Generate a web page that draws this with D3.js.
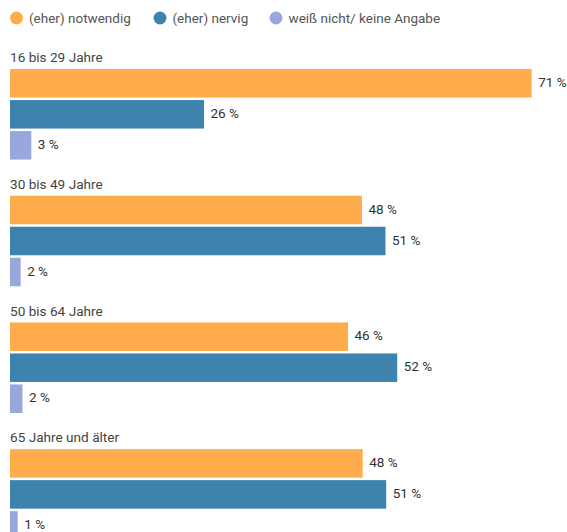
<!DOCTYPE html>
<html>
<head>
<meta charset="utf-8">
<script src="https://cdn.jsdelivr.net/npm/d3@7"></script>
<style>
  html, body { margin: 0; padding: 0; background: #fff; }
  svg { display: block; font-family: Roboto, "Noto Sans", sans-serif; }
</style>
</head>
<body>
<svg id="chart" width="567" height="532"></svg>
<script>
const groups = ["16 bis 29 Jahre", "30 bis 49 Jahre", "50 bis 64 Jahre", "65 Jahre und älter"];
const seriesNames = ["(eher) notwendig", "(eher) nervig", "weiß nicht/ keine Angabe"];
const seriesColors = ["#ffad4c", "#3d83ad", "#99a8dc"];
// actual (unrounded) values for bar lengths
const notwendig = [71.0, 47.9, 46.0, 48.0];
const nervig = [26.4, 51.1, 52.7, 51.2];
const weissNicht = [2.9, 1.45, 1.7, 1.05];
// displayed labels
const notwendigLabels = ["71 %", "48 %", "46 %", "48 %"];
const nervigLabels = ["26 %", "51 %", "52 %", "51 %"];
const weissNichtLabels = ["3 %", "2 %", "2 %", "1 %"];

const seriesValues = [notwendig, nervig, weissNicht];
const seriesLabels = [notwendigLabels, nervigLabels, weissNichtLabels];

const svg = d3.select("#chart");

const x = d3.scaleLinear().domain([0, 71.0]).range([10, 531.7]);
const yGroup = d3.scaleBand().domain(groups).range([44, 44 + 126.7 * 4]).paddingInner(0).paddingOuter(0);
const ySeries = d3.scaleBand().domain(d3.range(3)).range([23.8, 23.8 + 31 * 3]).paddingInner(0.08).paddingOuter(0.04);

// Legend
const legendX = [16.5, 160, 276];
const legend = svg.append("g");
seriesNames.forEach((name, i) => {
  const g = legend.append("g").attr("transform", `translate(${legendX[i]},18)`);
  g.append("circle").attr("r", 6.5).attr("fill", seriesColors[i]);
  g.append("text").attr("x", 12.5).attr("y", 4.7)
    .attr("font-size", 13.5).attr("fill", "#555").text(name);
});

groups.forEach((gname, gi) => {
  const g = svg.append("g").attr("transform", `translate(0,${yGroup(gname)})`);
  g.append("text").attr("x", 10).attr("y", 18.3)
    .attr("font-size", 13.6).attr("fill", "#444").text(gname);
  seriesValues.forEach((vals, si) => {
    const y = ySeries(si);
    const h = ySeries.bandwidth();
    g.append("rect")
      .attr("x", x(0)).attr("y", y)
      .attr("width", x(vals[gi]) - x(0)).attr("height", h)
      .attr("fill", seriesColors[si]);
    g.append("text")
      .attr("x", x(vals[gi]) + 6.5).attr("y", y + h / 2 + 3.8)
      .attr("font-size", 13.5).attr("fill", "#333")
      .text(seriesLabels[si][gi]);
  });
});
</script>
</body>
</html>
